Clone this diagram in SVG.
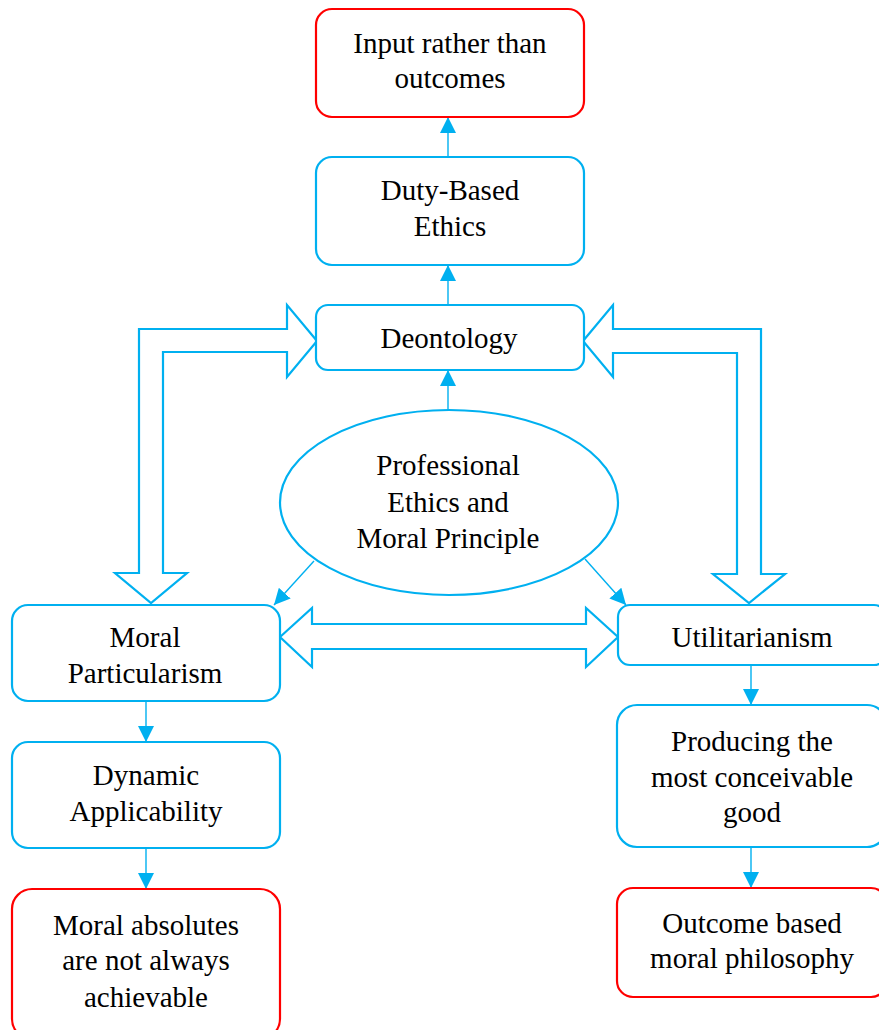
<svg xmlns="http://www.w3.org/2000/svg" width="879" height="1030" viewBox="0 0 879 1030">
  <defs>
    <marker id="tri" markerUnits="userSpaceOnUse" markerWidth="16" markerHeight="16" viewBox="0 0 16 16" refX="16" refY="8" orient="auto">
      <path d="M0,0 L16,8 L0,16 Z" fill="#00B0F0"/>
    </marker>
    <style>
      .box { fill: #FFFFFF; stroke: #00B0F0; stroke-width: 2.2; }
      .end { fill: #FFFFFF; stroke: #FF0000; stroke-width: 2.2; }
      .lbl { font-family: 'Liberation Serif', 'DejaVu Serif', serif; font-size: 29px; fill: #000000; text-anchor: middle; }
      .link { stroke: #00B0F0; stroke-width: 1.4; fill: none; marker-end: url(#tri); }
      .block { fill: #FFFFFF; stroke: #00B0F0; stroke-width: 2.2; stroke-linejoin: miter; }
    </style>
  </defs>
  <rect width="879" height="1030" fill="#FFFFFF"/>

  <g id="connectors">
    <line class="link" x1="448" y1="157" x2="448" y2="117"/>
    <line class="link" x1="448" y1="305" x2="448" y2="265"/>
    <line class="link" x1="448" y1="410" x2="448" y2="370"/>
    <line class="link" x1="314" y1="561" x2="274" y2="605"/>
    <line class="link" x1="585" y1="559" x2="626" y2="605"/>
    <line class="link" x1="146" y1="701" x2="146" y2="742"/>
    <line class="link" x1="146" y1="848" x2="146" y2="889"/>
    <line class="link" x1="751" y1="665" x2="751" y2="705"/>
    <line class="link" x1="751" y1="847" x2="751" y2="888"/>
    <!-- outlined block arrows -->
    <polygon class="block" points="317,341 287,305 287,329 139,329 139,573 115,573 151,603 187,573 163,573 163,352 287,352 287,377"/>
    <polygon class="block" points="583,341 613,305 613,329 761,329 761,574 785,574 749,603 713,574 737,574 737,353 613,353 613,377"/>
    <polygon class="block" points="280,637 312,608 312,624 586,624 586,608 618,637 586,667 586,649 312,649 312,667"/>
  </g>

  <g id="input-rather-than-outcomes">
    <rect class="end" x="316" y="9" width="268" height="108" rx="16"/>
    <text class="lbl" x="450" y="53" font-family="Liberation Serif">Input rather than</text>
    <text class="lbl" x="450" y="88">outcomes</text>
  </g>

  <g id="duty-based-ethics">
    <rect class="box" x="316" y="157" width="268" height="108" rx="16"/>
    <text class="lbl" x="450" y="200">Duty-Based</text>
    <text class="lbl" x="450" y="236">Ethics</text>
  </g>

  <g id="deontology">
    <rect class="box" x="316" y="305" width="268" height="65" rx="12"/>
    <text class="lbl" x="449" y="348">Deontology</text>
  </g>

  <g id="professional-ethics">
    <ellipse class="box" cx="449" cy="502.5" rx="169" ry="92.5"/>
    <text class="lbl" x="448" y="475">Professional</text>
    <text class="lbl" x="448" y="512">Ethics and</text>
    <text class="lbl" x="448" y="548">Moral Principle</text>
  </g>

  <g id="moral-particularism">
    <rect class="box" x="12" y="605" width="268" height="96" rx="16"/>
    <text class="lbl" x="145" y="647">Moral</text>
    <text class="lbl" x="145" y="683">Particularism</text>
  </g>

  <g id="utilitarianism">
    <rect class="box" x="618" y="605" width="268" height="60" rx="12"/>
    <text class="lbl" x="752" y="647">Utilitarianism</text>
  </g>

  <g id="dynamic-applicability">
    <rect class="box" x="12" y="742" width="268" height="106" rx="16"/>
    <text class="lbl" x="146" y="785">Dynamic</text>
    <text class="lbl" x="146" y="821">Applicability</text>
  </g>

  <g id="moral-absolutes">
    <rect class="end" x="12" y="889" width="268" height="150" rx="20"/>
    <text class="lbl" x="146" y="935">Moral absolutes</text>
    <text class="lbl" x="146" y="970">are not always</text>
    <text class="lbl" x="146" y="1007">achievable</text>
  </g>

  <g id="producing-good">
    <rect class="box" x="617" y="705" width="270" height="142" rx="20"/>
    <text class="lbl" x="752" y="751">Producing the</text>
    <text class="lbl" x="752" y="787">most conceivable</text>
    <text class="lbl" x="752" y="822">good</text>
  </g>

  <g id="outcome-based">
    <rect class="end" x="617" y="888" width="270" height="109" rx="16"/>
    <text class="lbl" x="752" y="933">Outcome based</text>
    <text class="lbl" x="752" y="968">moral philosophy</text>
  </g>
</svg>
